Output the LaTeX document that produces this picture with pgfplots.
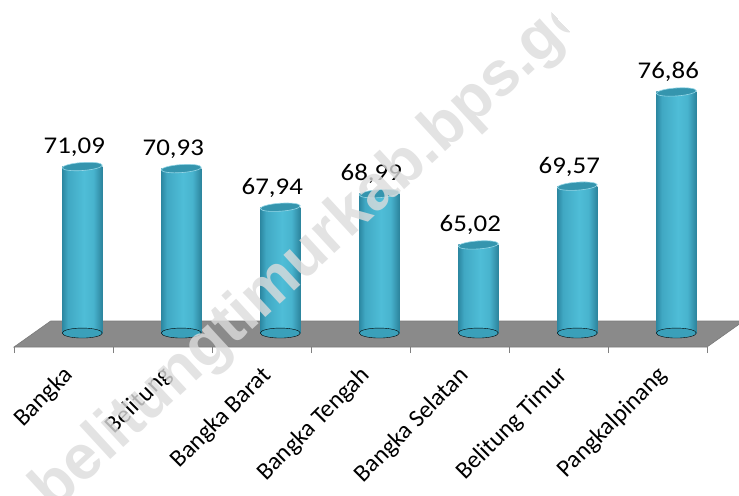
\documentclass[border=0pt]{standalone}
\usepackage{pgfplots}
\usepackage{pgfplotstable}
\pgfplotsset{compat=1.18}
\usepackage{fontspec}
\setmainfont{Carlito}
\newfontfamily\valfont{Carlito}[FakeStretch=1.12]
\newfontfamily\wmfont{Liberation Sans}
\definecolor{floorc}{HTML}{8A8A8A}
\definecolor{floore}{HTML}{7A7A7A}
\definecolor{cylL}{HTML}{2C88A2}
\definecolor{cylL2}{HTML}{40A8C3}
\definecolor{cylM}{HTML}{4FBDD7}
\definecolor{cylM2}{HTML}{48B3CE}
\definecolor{cylR}{HTML}{2C849D}
\definecolor{cylTop}{HTML}{3595AE}
\definecolor{cylBot}{HTML}{3AA0BA}
\definecolor{wm}{HTML}{DCDCDC}
\pgfdeclarehorizontalshading{cyl}{100bp}{color(0bp)=(cylL); color(25bp)=(cylL); color(32bp)=(cylL2); color(52bp)=(cylM); color(64bp)=(cylM2); color(75bp)=(cylR); color(100bp)=(cylR)}

\pgfplotstableread{
x v lab
0 71.09 71,09
1 70.93 70,93
2 67.94 67,94
3 68.99 68,99
4 65.02 65,02
5 69.57 69,57
6 76.86 76,86
}\datatable

\begin{document}
\begin{tikzpicture}
\path[use as bounding box] (0,-149bp) rectangle (739bp,347bp);
\begin{axis}[
  at={(0,0)}, anchor=south west, scale only axis,
  width=739bp, height=347bp,
  xmin=-0.6414, xmax=6.8232, ymin=-1.08, ymax=25.78,
  clip=false,
  axis x line*=bottom, hide y axis,
  x axis line style={draw=none},
  xtick={0,...,6},
  xticklabels={Bangka,Belitung,Bangka Barat,Bangka Tengah,Bangka Selatan,Belitung Timur,Pangkalpinang},
  major tick length=0pt,
  minor xtick={-0.5,0.5,...,6.5},
  minor tick length=6bp,
  xtick align=outside,
  every minor tick/.style={draw=gray, line width=0.8bp},
  xticklabel style={font=\fontsize{24.5bp}{28bp}\selectfont, yshift=-25bp, xshift=6bp, rotate=45, anchor=east, inner sep=0pt},
]
\addplot[fill=floorc, draw=floore, line width=0.6bp] coordinates {(-0.5,-1.08) (6.5,-1.08) (6.87,0.93) (-0.13,0.93)} -- cycle;
\addplot[only marks, mark=*, mark size=20bp, mark options={xshift=18.8bp, yscale=0.25, fill=cylBot, draw=none}]
  table[x=x, y expr=0] {\datatable};
\pgfplotsinvokeforeach{0,...,6}{
\addplot[ybar, bar width=40bp, bar shift=18.8bp, draw=none, shading=cyl,
  x filter/.expression={abs(x-#1)<0.1 ? x : nan},
  nodes near coords, point meta=explicit symbolic,
  every node near coord/.append style={font=\valfont\fontsize{24bp}{28bp}\selectfont, text=black, anchor=base, inner sep=0pt, yshift=13bp, xshift=10.8bp}]
  table[x=x, y expr=\thisrow{v}-58.2, meta=lab] {\datatable};
}
\addplot[only marks, mark=*, mark size=20bp, mark options={xshift=18.8bp, rotate=4, yscale=0.2, fill=cylTop, draw=cylM!60!white, line width=0.6bp}]
  table[x=x, y expr=\thisrow{v}-58.2] {\datatable};
\end{axis}
\begin{scope}
\clip (307bp,600bp) -- (849bp,12bp) -- (-255bp,-1004bp) -- (-797bp,-416bp) -- cycle;
\node[rotate=42.6, anchor=base west, text=wm, opacity=0.8, font=\wmfont\bfseries\fontsize{63bp}{63bp}\selectfont] at (51bp,-167.5bp) {belitungtimurkab.bps.go.id};
\end{scope}
\end{tikzpicture}
\end{document}
